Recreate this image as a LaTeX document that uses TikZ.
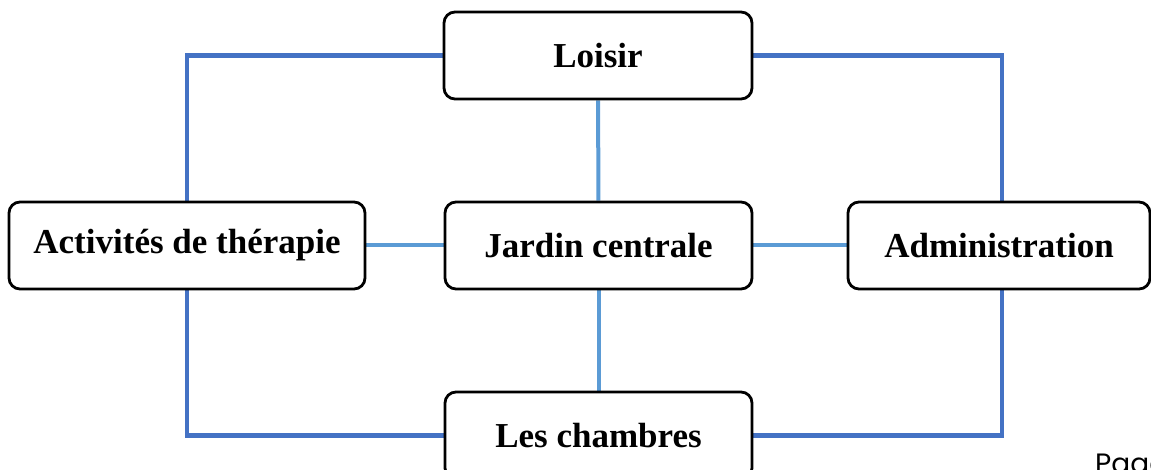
\documentclass[tikz,border=0pt]{standalone}
\usepackage{fontspec}
\setmainfont{Liberation Serif}
\newfontfamily\pagefont{Poppins}
\definecolor{outerblue}{HTML}{4472C4}
\definecolor{innerblue}{HTML}{5B9BD5}
\pgfdeclarelayer{links}
\pgfsetlayers{links,main}
\begin{document}
\begin{tikzpicture}[x=1pt,y=-1pt,
  boxnode/.style={draw=black, line width=2.8pt, rounded corners=11pt, fill=white,
    minimum height=87pt, inner sep=0pt, font=\fontsize{35}{40}\selectfont\bfseries},
  outerlink/.style={draw=outerblue, line width=4.5pt},
  innerlink/.style={draw=innerblue, line width=4pt}]
\useasboundingbox (0,0) rectangle (1151,470);
\node[boxnode, minimum width=308pt] (loisir) at (598,55.5) {Loisir};
\node[boxnode, minimum width=356pt] (act) at (187,245.5) {Activités de thérapie};
\node[boxnode, minimum width=307pt] (jardin) at (598.5,245.5) {Jardin centrale};
\node[boxnode, minimum width=302pt] (admin) at (999,245.5) {Administration};
\node[boxnode, minimum width=307pt] (ch) at (598.5,435.5) {Les chambres};
\begin{pgfonlayer}{links}
\draw[outerlink] (loisir.west) -| (act.north);
\draw[outerlink] (loisir.east) -| ([xshift=3pt]admin.north);
\draw[outerlink] (act.south) |- (ch.west);
\draw[outerlink] ([xshift=3pt]admin.south) |- (ch.east);
\draw[innerlink] (loisir) -- (jardin);
\draw[innerlink] (act) -- (jardin);
\draw[innerlink] (jardin) -- (admin);
\draw[innerlink] (jardin) -- (ch);
\end{pgfonlayer}
\node[anchor=base west, inner sep=0pt, font=\pagefont\fontsize{28}{32}\selectfont] (page) at (1095,473) {Page};
\end{tikzpicture}
\end{document}
